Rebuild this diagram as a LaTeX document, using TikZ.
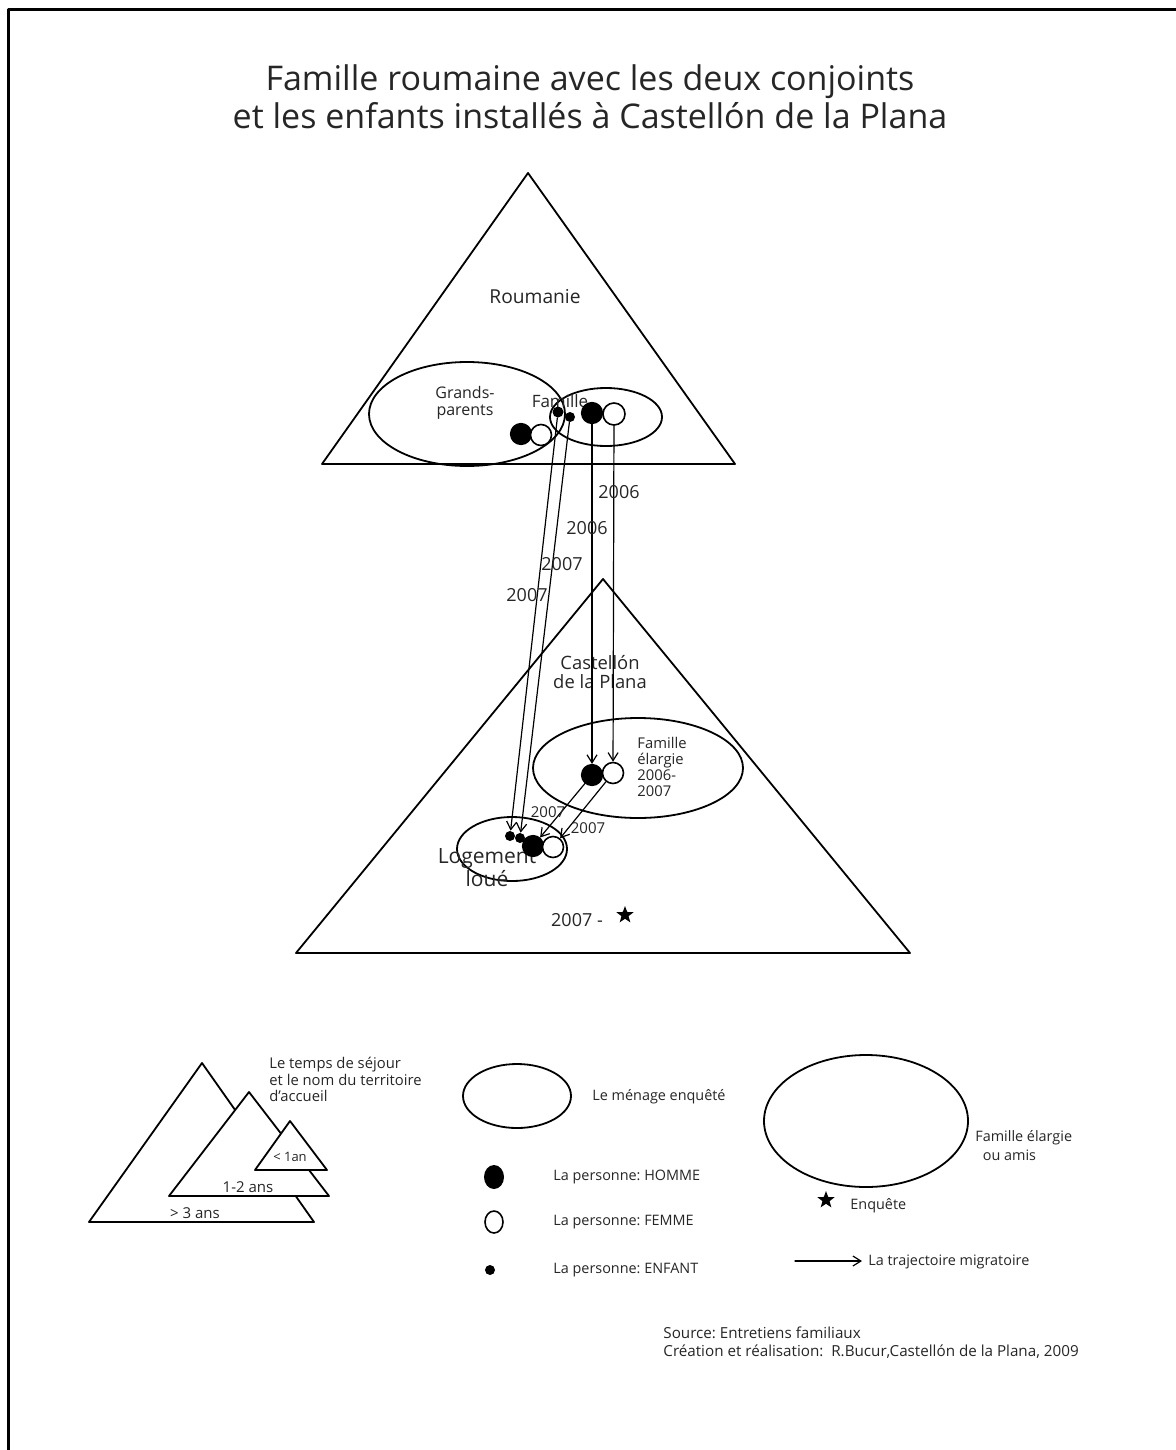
\documentclass[tikz,border=0pt]{standalone}
\usepackage{fontspec}
\setmainfont{Open Sans}
\usetikzlibrary{arrows.meta,shapes.geometric}
\frenchspacing
\tikzset{
  every picture/.style={line join=round, line cap=round, >={Straight Barb[length=4pt,width=5pt]}},
  terr/.style={draw, line width=0.9pt, fill=white},
  zone/.style={draw, line width=0.9pt},
  homme/.style={circle, draw, fill=black, line width=0.6pt, inner sep=0pt, minimum size=10.5pt},
  femme/.style={circle, draw, fill=white, line width=0.8pt, inner sep=0pt, minimum size=10.5pt},
  enfant/.style={circle, fill=black, inner sep=0pt, minimum size=5pt},
  traj/.style={->, line width=0.6pt},
  txt/.style 2 args={inner sep=0pt, text=black!85, font=\fontsize{#1}{#2}\selectfont},
}

\begin{document}
\begin{tikzpicture}[x=0.5pt,y=-0.5pt]
\useasboundingbox (0,0) rectangle (1176,1450);
% cadre
\draw[line width=1.5pt,line cap=butt] (8,1460) -- (8,10) -- (1190,10);
\node[txt={17}{19},align=center] (titre) at (590,97)
  {Famille roumaine avec les deux conjoints\\et les enfants installés à Castellón de la Plana};

% Roumanie
\draw[terr] (528,173) -- (322,464) -- (735,464) -- cycle;
\draw[zone] (467,414) ellipse [x radius=98, y radius=52];
\draw[zone] (606,417) ellipse [x radius=56, y radius=29];
\node[txt={9.6}{12}] (roumanie) at (535,297) {Roumanie};
\node[txt={8}{8.5},align=center] (gparents) at (465,403) {Grands-\\parents};
\node[txt={8.5}{10}] (famille) at (560,401) {Famille};
\node[homme] (gp_h) at (521,434) {};
\node[femme] (gp_f) at (541,435) {};
\node[enfant,minimum size=5.5pt] (fam_e1) at (558,412) {};
\node[enfant] (fam_e2) at (570,417) {};
\node[homme] (fam_h) at (592,413) {};
\node[femme,minimum size=11pt] (fam_f) at (614,414) {};

% Castellon de la Plana
\draw[terr] (603,579) -- (296,953) -- (910,953) -- cycle;
\draw[zone] (638,768) ellipse [x radius=105, y radius=50];
\draw[zone] (512,849) ellipse [x radius=55, y radius=32];
\node[txt={9.2}{9.5},align=center] (castellon) at (600,672) {Castellón\\de la Plana};
\node[txt={7.4}{8},align=left,anchor=north west] (felargie) at (637,737) {Famille\\élargie\\2006-\\2007};
\node[txt={10.5}{9},align=center] (logement) at (487,868) {Logement\\loué};
\node[homme] (fe_h) at (592,775) {};
\node[femme] (fe_f) at (613,773) {};
\node[enfant] (lg_e1) at (510,836) {};
\node[enfant] (lg_e2) at (520,838) {};
\node[homme] (lg_h) at (533,846) {};
\node[femme] (lg_f) at (553,847) {};
\node[txt={9}{12}] (enq) at (577,920) {2007 -};
\node[star,star points=5,star point ratio=2.4,fill=black,inner sep=0pt,minimum size=9pt] (etoile) at (625,915) {};

% trajectoires
\draw[traj] (fam_e1) -- (lg_e1);
\draw[traj] (fam_e2) -- (lg_e2);
\draw[traj] (fam_h) -- (fe_h);
\draw[traj] (fam_f) -- (fe_f);
\draw[traj] (fe_h) -- (lg_h);
\draw[traj] (fe_f) -- (lg_f);
\node[txt={9}{12}] (an_f) at (619,492) {2006};
\node[txt={9}{12}] (an_h) at (587,528) {2006};
\node[txt={9}{12}] (an_e2) at (562,564) {2007};
\node[txt={9}{12}] (an_e1) at (527,595) {2007};
\node[txt={7.5}{10}] (an_lh) at (548,812) {2007};
\node[txt={7.5}{10}] (an_lf) at (588,828) {2007};

% legende
\draw[terr] (202,1063) -- (89,1222) -- (314,1222) -- cycle;
\draw[terr] (249,1092) -- (169,1196) -- (329,1196) -- cycle;
\draw[terr] (290,1121) -- (255,1170) -- (327,1170) -- cycle;
\node[txt={7.5}{8}] (l_3ans) at (195,1213) {> 3 ans};
\node[txt={7.5}{8}] (l_12ans) at (248,1187) {1-2 ans};
\node[txt={6.5}{8}] (l_1an) at (290,1157) {< 1an};
\node[txt={7.4}{8.25},align=left,anchor=north west] (l_temps) at (269,1057)
  {Le temps de séjour\\et le nom du territoire\\d'accueil};
\draw[zone] (517,1096) ellipse [x radius=54, y radius=32];
\node[txt={7.2}{8},anchor=west] (l_menage) at (592,1097) {Le ménage enquêté};
\draw[zone] (866,1121) ellipse [x radius=102, y radius=66];
\node[txt={7.2}{9.5},align=left,anchor=north west] (l_famille) at (975,1130) {Famille élargie\\\ \ ou amis};
\node[ellipse,fill=black,inner sep=0pt,minimum width=10pt,minimum height=12pt] (k_h) at (494,1177) {};
\node[ellipse,draw,line width=0.8pt,inner sep=0pt,minimum width=9pt,minimum height=11pt] (k_f) at (494,1222) {};
\node[enfant] (k_e) at (490,1270) {};
\node[txt={7.2}{8},anchor=west] (l_h) at (553,1177) {La personne: HOMME};
\node[txt={7.2}{8},anchor=west] (l_f) at (553,1222) {La personne: FEMME};
\node[txt={7.2}{8},anchor=west] (l_e) at (553,1270) {La personne: ENFANT};
\node[star,star points=5,star point ratio=2.4,fill=black,inner sep=0pt,minimum size=9pt] (k_star) at (826,1200) {};
\node[txt={7.2}{8},anchor=west] (l_enq) at (850,1206) {Enquête};
\coordinate (k_a) at (795,1261);
\coordinate (k_b) at (862,1261);
\draw[traj] (k_a) -- (k_b);
\node[txt={7.2}{8},anchor=west] (l_traj) at (868,1262) {La trajectoire migratoire};
\node[txt={7.6}{9},align=left,anchor=north west] (source) at (663,1326)
  {Source: Entretiens familiaux\\Création et réalisation:\ \ R.Bucur,Castellón de la Plana, 2009};
\end{tikzpicture}
\end{document}
